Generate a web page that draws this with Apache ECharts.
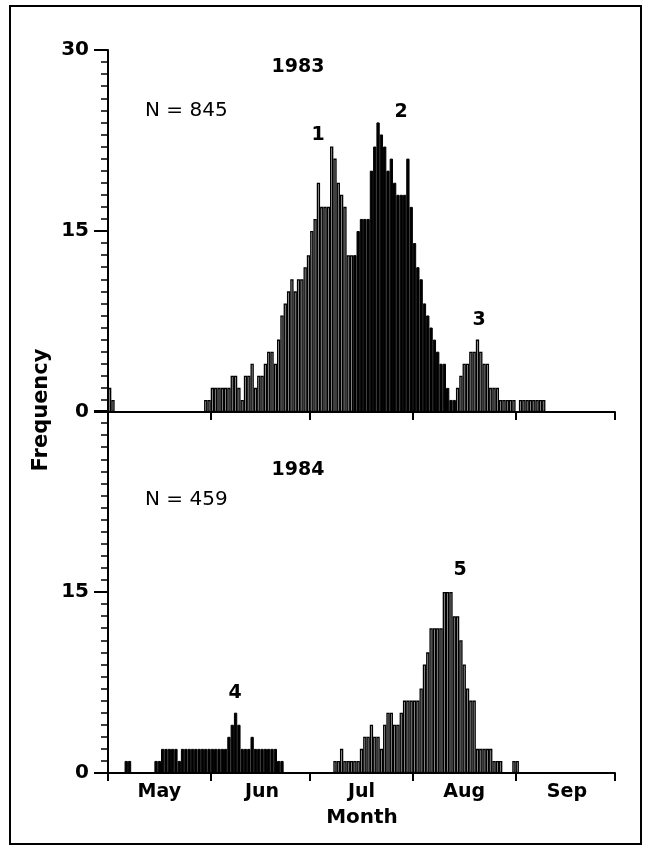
<!DOCTYPE html>
<html>
<head>
<meta charset="utf-8">
<script src="https://cdn.jsdelivr.net/npm/echarts@6/dist/echarts.min.js"></script>
</head>
<body style="margin:0; background:#fff">
<div id="main" style="width:652px; height:851px"></div>
<script>
var months = ['May', 'Jun', 'Jul', 'Aug', 'Sep'];
var monthDays = [31, 30, 31, 31, 30];
var monthLabelDay = 15; // label sits on the 16th of each month

// daily counts, each run starts at a day index (0 = 1 May)
var y83EarlyStart = 0;
var y83Early = [2, 1];
var y83G1Start = 29;
var y83G1 = [1, 1, 2, 2, 2, 2, 2, 2, 3, 3, 2, 1, 3, 3, 4, 2, 3, 3, 4, 5, 5, 4, 6, 8, 9, 10,
             11, 10, 11, 11, 12, 13, 15, 16, 19, 17, 17, 17, 22, 21, 19, 18, 17, 13, 13];
var y83G2Start = 74;
var y83G2 = [13, 15, 16, 16, 16, 20, 22, 24, 23, 22, 20, 21, 19, 18, 18, 18, 21, 17, 14, 12,
             11, 9, 8, 7, 6, 5, 4, 4, 2, 1, 1];
var y83G3Start = 105;
var y83G3 = [2, 3, 4, 4, 5, 5, 6, 5, 4, 4, 2, 2, 2, 1, 1, 1, 1, 1, 0, 1, 1, 1, 1, 1, 1, 1, 1];

var y84G4Start = 5;
var y84G4 = [1, 1, 0, 0, 0, 0, 0, 0, 0, 1, 1, 2, 2, 2, 2, 2, 1, 2, 2, 2, 2, 2, 2, 2, 2, 2, 2,
             2, 2, 2, 2, 3, 4, 5, 4, 2, 2, 2, 3, 2, 2, 2, 2, 2, 2, 2, 1, 1];
var y84G5Start = 68;
var y84G5 = [1, 1, 2, 1, 1, 1, 1, 1, 2, 3, 3, 4, 3, 3, 2, 4, 5, 5, 4, 4, 5, 6, 6, 6, 6, 6, 7,
             9, 10, 12, 12, 12, 12, 15, 15, 15, 13, 13, 11, 9, 7, 6, 6, 2, 2, 2, 2, 2, 1, 1, 1,
             0, 0, 0, 1, 1];

var yTicks = [0, 15, 30];

var days = [];
var monthStart = [];
months.forEach(function (m, i) {
    monthStart.push(days.length);
    for (var d = 1; d <= monthDays[i]; d++) days.push(m + ' ' + d);
});

function runs(list) {
    var out = days.map(function () { return '-'; });
    list.forEach(function (r) {
        r[1].forEach(function (v, i) { if (v > 0) out[r[0] + i] = v; });
    });
    return out;
}

var font = 'DejaVu Sans';
var black = '#000';
var hatch = {color: '#b4b4b4', borderColor: '#000', borderWidth: 1.3};
var solid = {color: '#000', borderColor: '#000', borderWidth: 1};

function xAxis(grid, labels) {
    return {
        type: 'category', gridIndex: grid, data: days,
        axisLine: {lineStyle: {color: black, width: 2}},
        axisTick: {
            show: true, length: 8, lineStyle: {color: black, width: 2},
            interval: function (i) { return monthStart.indexOf(i) >= 0; }
        },
        axisLabel: {
            show: labels, color: black, fontFamily: font, fontWeight: 'bold', fontSize: 19, margin: 10,
            interval: function (i) { return monthStart.indexOf(i - monthLabelDay) >= 0; },
            formatter: function (v) { return v.split(' ')[0]; }
        },
        splitLine: {show: false}
    };
}

function yAxis(grid, hideTop) {
    return {
        type: 'value', gridIndex: grid, min: yTicks[0], max: yTicks[2], interval: yTicks[1],
        axisLine: {show: true, lineStyle: {color: black, width: 2}},
        axisTick: {show: true, length: 14, lineStyle: {color: black, width: 2}},
        minorTick: {show: true, splitNumber: 15, length: 7, lineStyle: {color: black, width: 1.5}},
        splitLine: {show: false},
        axisLabel: {
            color: black, fontFamily: font, fontWeight: 'bold', fontSize: 20, margin: 19,
            formatter: function (v) { return hideTop && v === yTicks[2] ? '' : String(v); }
        }
    };
}

function bars(name, grid, data, style) {
    return {
        name: name, type: 'bar', xAxisIndex: grid, yAxisIndex: grid, data: data,
        barCategoryGap: '0%', barGap: '-100%', itemStyle: style, animation: false
    };
}

function txt(x, y, s, opts) {
    return {
        type: 'text', x: x, y: y, rotation: (opts && opts.rot) || 0,
        style: {
            text: s, fill: black, fontFamily: font,
            fontWeight: (opts && opts.weight) || 'bold', fontSize: (opts && opts.size) || 19,
            align: (opts && opts.align) || 'center', verticalAlign: 'middle'
        }
    };
}

var chart = echarts.init(document.getElementById('main'));
chart.setOption({
    animation: false,
    grid: [
        {left: 108, top: 50, width: 507, height: 362},
        {left: 108, top: 411, width: 507, height: 362}
    ],
    xAxis: [xAxis(0, false), xAxis(1, true)],
    yAxis: [yAxis(0, false), yAxis(1, true)],
    series: [
        bars('1983 hatched', 0, runs([[y83EarlyStart, y83Early], [y83G1Start, y83G1], [y83G3Start, y83G3]]), hatch),
        bars('1983 group 2', 0, runs([[y83G2Start, y83G2]]), solid),
        bars('1984 group 4', 1, runs([[y84G4Start, y84G4]]), solid),
        bars('1984 group 5', 1, runs([[y84G5Start, y84G5]]), hatch)
    ],
    graphic: [
        {type: 'rect', shape: {x: 10, y: 6, width: 631, height: 838}, style: {fill: null, stroke: black, lineWidth: 2}},
        txt(42, 410, 'Frequency', {rot: Math.PI / 2, size: 21}),
        txt(362, 818, 'Month', {size: 20}),
        txt(298, 67, '1983'),
        txt(145, 111, 'N = 845', {align: 'left', weight: 'normal', size: 20}),
        txt(318, 135, '1'),
        txt(401, 112, '2'),
        txt(479, 320, '3'),
        txt(298, 470, '1984'),
        txt(145, 500, 'N = 459', {align: 'left', weight: 'normal', size: 20}),
        txt(235, 693, '4'),
        txt(460, 570, '5')
    ]
});
</script>
</body>
</html>
